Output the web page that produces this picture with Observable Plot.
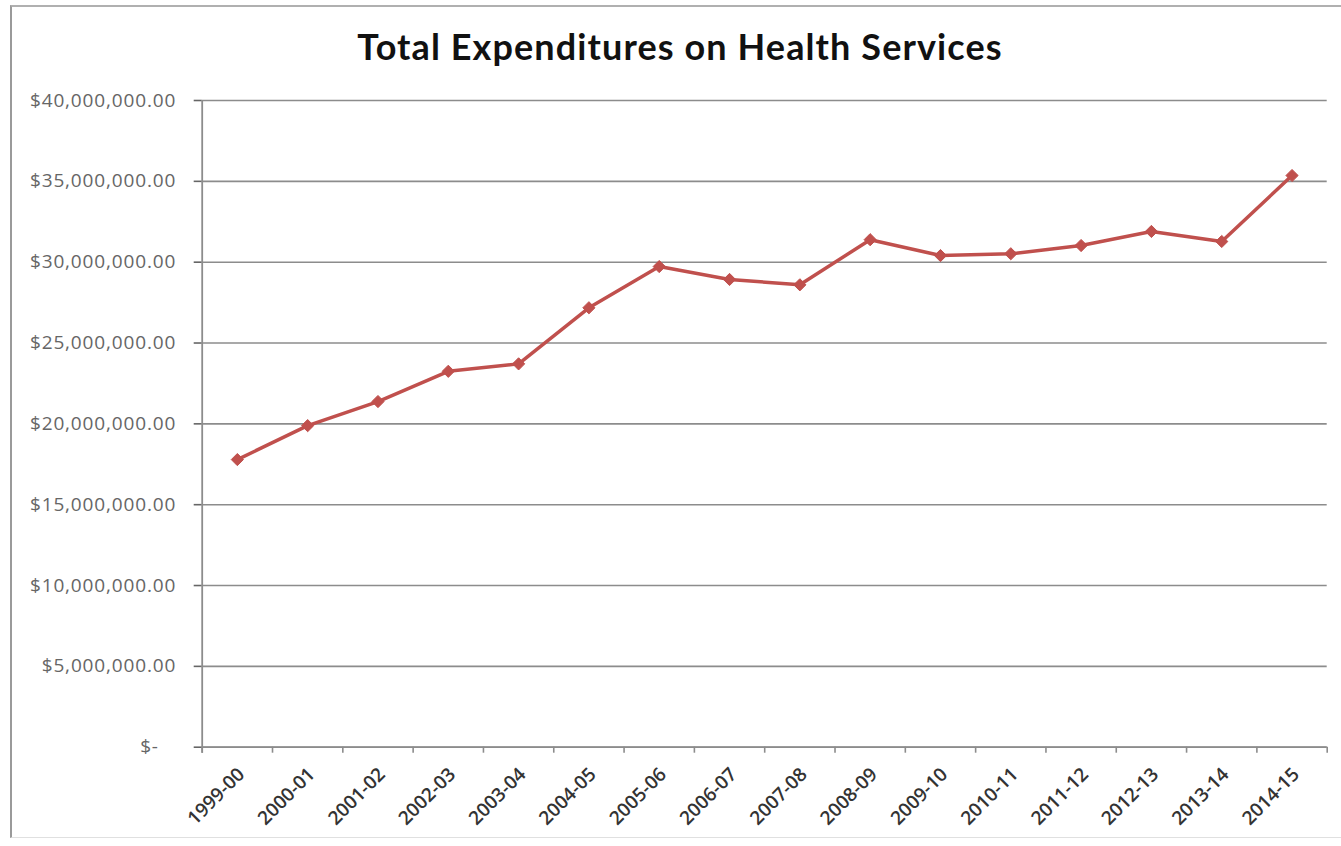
<!DOCTYPE html>
<html>
<head>
<meta charset="utf-8">
<script src="https://cdn.jsdelivr.net/npm/d3@7"></script>
<script src="https://cdn.jsdelivr.net/npm/@observablehq/plot@0.6"></script>
<style>
  html, body { margin: 0; padding: 0; background: #fff; }
  #frame { position: absolute; left: 10px; top: 5px; width: 1340px; height: 833px;
           border-left: 2px solid #9a9a9a; border-top: 2px solid #b0b0b0; border-bottom: 1px solid #e0e0e0; box-sizing: border-box; }
  #title { position: absolute; left: 0; top: 0; width: 1341px; height: 80px; box-sizing: border-box; padding-left: 19px;
           text-align: center; font-family: Lato, "Open Sans", sans-serif; font-weight: 700; font-size: 36px; line-height: 1;
           letter-spacing: 1.1px; color: #111; padding-top: 28px; }
  #chart { position: absolute; left: 0; top: 80px; }
  [aria-label="y-axis tick label"] text { letter-spacing: 0.85px; }
</style>
</head>
<body>
<div id="frame"></div>
<div id="title">Total Expenditures on Health Services</div>
<div id="chart"></div>
<script>
const categories = ["1999-00","2000-01","2001-02","2002-03","2003-04","2004-05","2005-06","2006-07",
                    "2007-08","2008-09","2009-10","2010-11","2011-12","2012-13","2013-14","2014-15"];
const expenditures = [17790000, 19890000, 21380000, 23250000, 23710000, 27180000, 29730000, 28930000,
                      28600000, 31390000, 30410000, 30520000, 31030000, 31900000, 31280000, 35360000];
const yTicks = [0, 5000000, 10000000, 15000000, 20000000, 25000000, 30000000, 35000000, 40000000];

const data = categories.map((c, i) => ({i, category: c, value: expenditures[i]}));
const boundaries = d3.range(categories.length + 1).map(k => k - 0.5);
const money = d3.format("$,.2f");
const yFormat = v => v === 0 ? "$-\u00a0\u00a0\u00a0" : money(v);

const chart = Plot.plot({
  width: 1341,
  height: 766,
  marginLeft: 201.7,
  marginRight: 14.3,
  marginTop: 20,
  marginBottom: 99.3,
  style: {fontFamily: "'Open Sans', sans-serif", background: "transparent"},
  x: {type: "linear", domain: [-0.5, categories.length - 0.5], axis: null},
  y: {domain: [0, 40000000], axis: null},
  marks: [
    Plot.gridY(yTicks, {stroke: "#8c8c8c", strokeOpacity: 1, strokeWidth: 1.6}),
    Plot.axisY(yTicks, {tickSize: 8, tickPadding: 18, tickFormat: yFormat, fontSize: 19,
                        color: "#666", strokeWidth: 1.6, label: null}),
    Plot.ruleX([-0.5], {stroke: "#8c8c8c", strokeWidth: 1.8, insetBottom: -6}),
    Plot.ruleY([0], {stroke: "#8c8c8c", strokeWidth: 1.8}),
    Plot.axisX(boundaries, {tickSize: 6, tickFormat: () => "", color: "#8c8c8c", strokeWidth: 1.6, label: null}),
    Plot.axisX(d3.range(categories.length), {tickSize: 0, tickPadding: 24, tickRotate: -45,
                        tickFormat: i => categories[i], fontSize: 19, fontWeight: 600, color: "#333", dx: 4, label: null}),
    Plot.line(data, {x: "i", y: "value", stroke: "#C0504D", strokeWidth: 3.5}),
    Plot.dot(data, {x: "i", y: "value", symbol: "diamond2", r: 5.5, fill: "#C0504D", stroke: "#C0504D", strokeWidth: 1})
  ]
});
document.getElementById("chart").append(chart);
</script>
</body>
</html>
